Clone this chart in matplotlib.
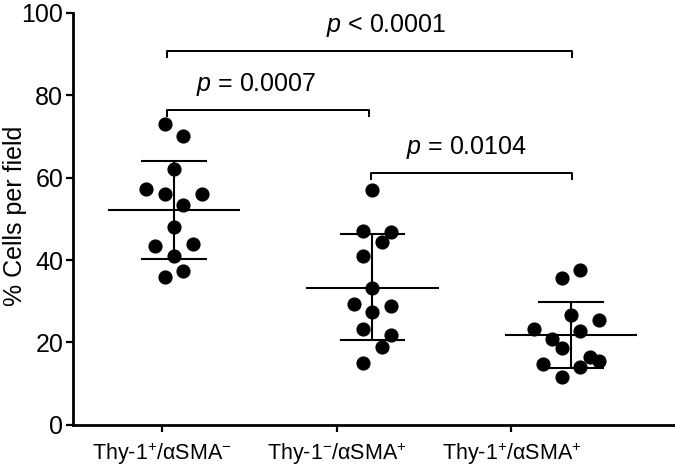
import numpy as np
import matplotlib
matplotlib.use('Agg')
import matplotlib.pyplot as plt

plt.rcParams['font.family'] = ['Liberation Sans', 'DejaVu Sans']
plt.rcParams['mathtext.fontset'] = 'custom'
plt.rcParams['mathtext.rm'] = 'Liberation Sans'
plt.rcParams['mathtext.it'] = 'Liberation Sans:italic'
plt.rcParams['mathtext.sf'] = 'Liberation Sans'

# data
groups = ['Thy-1$^{+}$/αSMA$^{-}$', 'Thy-1$^{-}$/αSMA$^{+}$', 'Thy-1$^{+}$/αSMA$^{+}$']
vals_a = [73.1, 70.1, 62.1, 57.2, 56.0, 56.1, 53.3, 48.1, 43.5, 43.8, 41.0, 37.4, 35.8]
vals_b = [56.9, 47.1, 46.9, 44.3, 41.0, 33.3, 29.4, 28.8, 27.3, 23.2, 21.9, 19.0, 15.0]
vals_c = [37.5, 35.6, 26.7, 25.4, 23.2, 22.7, 20.9, 18.6, 16.4, 15.6, 14.8, 14.0, 11.7]
# horizontal scatter slots (in half-dot steps)
slot_a = [-1, 1, 0, -3, -1, 3, 1, 0, -2, 2, 0, 1, -1]
slot_b = [0, -1, 2, 1, -1, 0, -2, 2, 0, -1, 2, 1, -1]
slot_c = [1, -1, 0, 3, -4, 1, -2, -1, 2, 3, -3, 1, -1]
means = [52.2, 33.3, 21.8]
sd_hi = [64.0, 46.3, 29.8]
sd_lo = [40.2, 20.6, 13.8]
# brackets: (x0, x1, y, label, label x)
brackets = [(-0.035, 2.005, 90.8, '$p$ < 0.0001', 1.068),
            (-0.035, 0.982, 76.5, '$p$ = 0.0007', 0.413),
            (0.992, 2.005, 61.2, '$p$ = 0.0104', 1.473)]

fig = plt.figure(figsize=(6.75, 4.68), dpi=100)
ax = fig.add_axes([0.108, 0.092, 0.892, 0.881])

step = 0.047
for i, (v, s) in enumerate(zip([vals_a, vals_b, vals_c], [slot_a, slot_b, slot_c])):
    x = i + step * np.array(s)
    ax.plot(x, v, 'o', color='black', markersize=9.2, zorder=3)
    ax.hlines(means[i], i - 0.333, i + 0.333, color='black', lw=1.5)
    ax.vlines(i, sd_lo[i], sd_hi[i], color='black', lw=1.5)
    ax.hlines([sd_lo[i], sd_hi[i]], i - 0.165, i + 0.165, color='black', lw=1.5)

for x0, x1, y, lab, xt in brackets:
    ax.plot([x0, x0, x1, x1], [y - 1.6, y, y, y - 1.6], color='black', lw=1.4)
    ax.text(xt, y + 4.6, lab, ha='center', va='baseline', fontsize=18)

ax.set_xlim(-0.509, 2.524)
ax.set_ylim(0, 100)
ax.set_yticks(np.arange(0, 101, 20))
ax.set_xticks([-0.06, 0.82, 1.70])
ax.set_xticklabels(groups, fontsize=15.5)
ax.tick_params(axis='y', labelsize=18, length=5, width=1.6, pad=2)
ax.tick_params(axis='x', length=5, width=1.6, pad=6)
ax.set_ylabel('% Cells per field', fontsize=18)
ax.yaxis.set_label_coords(-0.076, 0.507)
for sp in ['top', 'right']:
    ax.spines[sp].set_visible(False)
for sp in ['left', 'bottom']:
    ax.spines[sp].set_linewidth(2.0)

fig.savefig('out.png', dpi=100)
